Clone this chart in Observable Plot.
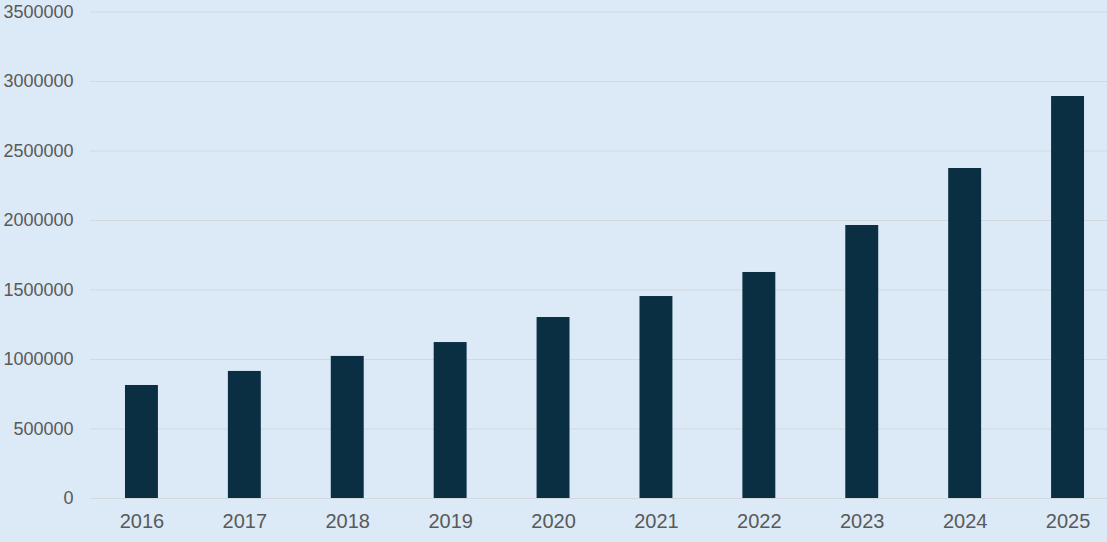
<!DOCTYPE html>
<html>
<head>
<meta charset="utf-8">
<script src="https://cdn.jsdelivr.net/npm/d3@7"></script>
<script src="https://cdn.jsdelivr.net/npm/@observablehq/plot@0.6"></script>
<style>
  html, body { margin: 0; padding: 0; background: #dce9f6; }
  #chart { width: 1107px; height: 542px; overflow: hidden; }
</style>
</head>
<body>
<div id="chart"></div>
<script>
const years = ["2016","2017","2018","2019","2020","2021","2022","2023","2024","2025"];
const values = [813000, 914000, 1022000, 1122000, 1302000, 1453000, 1626000, 1964000, 2374000, 2892000];
const yTicks = [0, 500000, 1000000, 1500000, 2000000, 2500000, 3000000, 3500000];

const data = years.map((y, i) => ({year: y, value: values[i]}));

const chart = Plot.plot({
  width: 1107,
  height: 542,
  marginLeft: 90,
  marginRight: 0,
  marginTop: 11.5,
  marginBottom: 44,
  style: {background: "#dce9f6", fontFamily: "'Liberation Sans', Arial, sans-serif", fontSize: "19px", color: "#595959"},
  x: {domain: years, range: [90, 1119], paddingInner: 0.68, paddingOuter: 0.34, round: false, label: null},
  y: {domain: [0, 3500000], label: null},
  marks: [
    Plot.ruleY(yTicks, {stroke: "#d3d8de", strokeWidth: 1}),
    Plot.barY(data, {x: "year", y: "value", fill: "#0b2f42"}),
    Plot.axisY(yTicks, {tickSize: 0, tickPadding: 17, tickFormat: d3.format("d"), fill: "#595959", fontSize: 18, label: null}),
    Plot.axisX({tickSize: 0, tickPadding: 15, fill: "#595959", fontSize: 20, label: null})
  ]
});
document.getElementById("chart").appendChild(chart);
</script>
</body>
</html>
